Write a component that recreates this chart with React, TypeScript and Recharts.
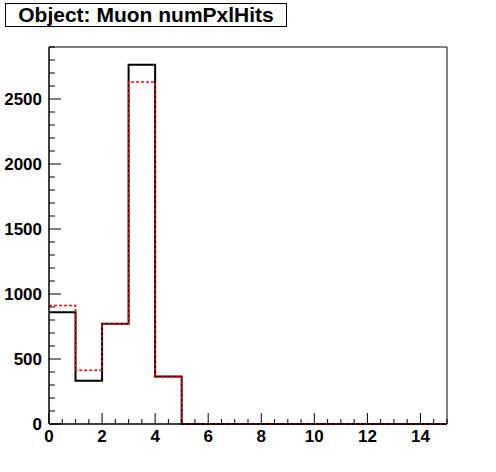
import { ComposedChart, Line, XAxis, YAxis, ReferenceArea } from 'recharts'

// bin edges 0..15, one value per bin (numPxlHits)
const binEdges = [0, 1, 2, 3, 4, 5, 6, 7, 8, 9, 10, 11, 12, 13, 14, 15]
const blackCounts = [860, 333, 772, 2764, 366, 0, 0, 0, 0, 0, 0, 0, 0, 0, 0]
const redCounts = [911, 413, 772, 2631, 361, 0, 0, 0, 0, 0, 0, 0, 0, 0, 0]

const xTicks = [0, 0.5, 1, 1.5, 2, 2.5, 3, 3.5, 4, 4.5, 5, 5.5, 6, 6.5, 7, 7.5, 8, 8.5, 9, 9.5, 10, 10.5, 11, 11.5, 12, 12.5, 13, 13.5, 14, 14.5, 15]
const xLabels = [0, 2, 4, 6, 8, 10, 12, 14]
const yTicks = [
  0, 100, 200, 300, 400, 500, 600, 700, 800, 900, 1000, 1100, 1200, 1300, 1400, 1500,
  1600, 1700, 1800, 1900, 2000, 2100, 2200, 2300, 2400, 2500, 2600, 2700, 2800, 2900,
]
const yLabels = [0, 500, 1000, 1500, 2000, 2500]

const FONT = '"Liberation Sans", Arial, Helvetica, sans-serif'

// step histogram: last edge repeats the last bin value
const data = binEdges.map((edge, i) => ({
  x: edge,
  black: blackCounts[Math.min(i, blackCounts.length - 1)],
  red: redCounts[Math.min(i, redCounts.length - 1)],
}))

function XTick(props: any) {
  const { x, y, payload } = props
  const v = payload.value
  const major = xLabels.includes(v)
  return (
    <g>
      <line x1={x} y1={y} x2={x} y2={y - (major ? 11 : 5)} stroke="#000" strokeWidth={1} />
      {major && (
        <text x={x} y={y + 18} textAnchor="middle" fontFamily={FONT} fontWeight="bold" fontSize={17} fill="#000">
          {v}
        </text>
      )}
    </g>
  )
}

function YTick(props: any) {
  const { x, y, payload } = props
  const v = payload.value
  const major = yLabels.includes(v)
  return (
    <g>
      <line x1={x} y1={y} x2={x + (major ? 12 : 6)} y2={y} stroke="#000" strokeWidth={1} />
      {major && (
        <text x={x - 7} y={y + 6} textAnchor="end" fontFamily={FONT} fontWeight="bold" fontSize={17} fill="#000">
          {v}
        </text>
      )}
    </g>
  )
}

export default function App() {
  return (
    <div style={{ position: 'absolute', left: 0, top: 0, width: 496, height: 472, background: '#fff' }}>
      <ComposedChart width={496} height={472} data={data} margin={{ top: 47, right: 49, bottom: 0, left: 0 }}>
        <XAxis
          dataKey="x"
          type="number"
          domain={[0, 15]}
          ticks={xTicks}
          interval={0}
          tick={<XTick />}
          tickLine={false}
          tickSize={0}
          tickMargin={0}
          axisLine={{ stroke: '#000' }}
          height={48}
        />
        <YAxis
          type="number"
          domain={[0, 2900]}
          ticks={yTicks}
          interval={0}
          tick={<YTick />}
          tickLine={false}
          tickSize={0}
          tickMargin={0}
          axisLine={{ stroke: '#000' }}
          width={49}
        />
        <ReferenceArea x1={0} x2={15} y1={0} y2={2900} fill="none" stroke="#000" strokeWidth={1} />
        <Line
          type="stepAfter"
          dataKey="black"
          stroke="#000"
          strokeWidth={2}
          dot={false}
          activeDot={false}
          isAnimationActive={false}
        />
        <Line
          type="stepAfter"
          dataKey="red"
          stroke="#ff0000"
          strokeWidth={1.5}
          strokeDasharray="3 2"
          dot={false}
          activeDot={false}
          isAnimationActive={false}
        />
      </ComposedChart>
      <div
        style={{
          position: 'absolute',
          left: 5,
          top: 3,
          width: 282,
          height: 24,
          boxSizing: 'border-box',
          border: '1px solid #000',
          background: '#fff',
          fontFamily: FONT,
          fontWeight: 'bold',
          fontSize: 21,
          lineHeight: '22px',
          textAlign: 'center',
          color: '#000',
          whiteSpace: 'nowrap',
        }}
      >
        Object: Muon numPxlHits
      </div>
    </div>
  )
}
